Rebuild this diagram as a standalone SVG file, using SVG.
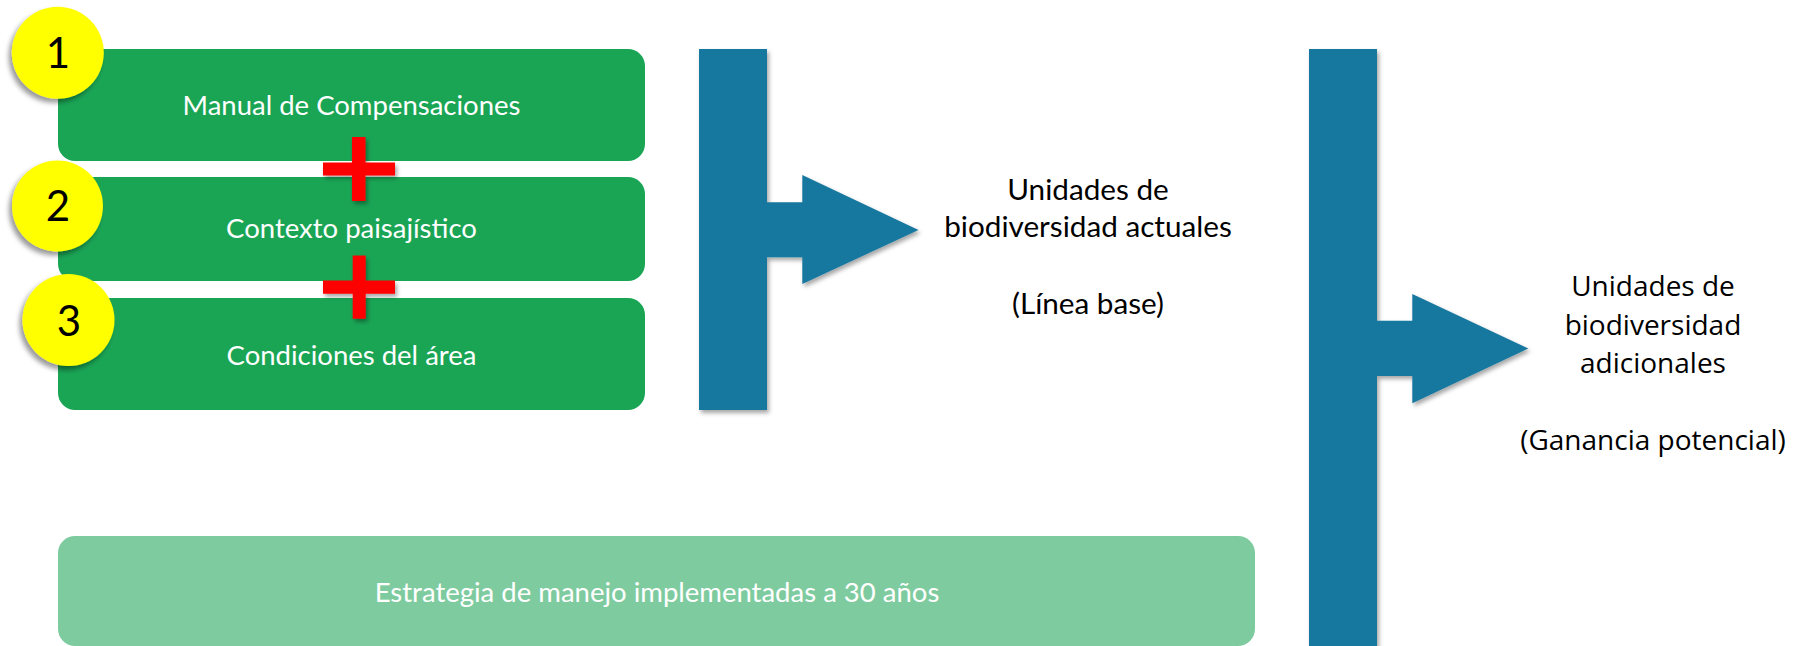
<svg xmlns="http://www.w3.org/2000/svg" width="1805" height="646" viewBox="0 0 1805 646">
<defs>
<filter id="sh" x="-20%" y="-20%" width="140%" height="140%"><feDropShadow dx="2" dy="3" stdDeviation="2" flood-color="#000" flood-opacity="0.35"/></filter>
<filter id="shc" x="-30%" y="-30%" width="160%" height="160%"><feDropShadow dx="-3" dy="4" stdDeviation="2.5" flood-color="#000" flood-opacity="0.4"/></filter>
</defs>
<style>
.box{fill:#1AA555}
.box2{fill:#7FCBA0}
.bt{font-family:Lato,"Liberation Sans",sans-serif;font-size:27.5px;fill:#fff;text-anchor:middle}
.num{font-family:Lato,"Liberation Sans",sans-serif;font-size:42px;fill:#000;text-anchor:middle}
.circ{fill:#FFFF00;filter:url(#shc)}
.plus{fill:#FF0000;filter:url(#sh)}
.arr{fill:#17779F;filter:url(#sh)}
.lt{font-family:Lato,"Liberation Sans",sans-serif;font-size:29.7px;fill:#000;text-anchor:middle}
.rt{font-family:"Open Sans","DejaVu Sans",sans-serif;font-size:28px;fill:#000;text-anchor:middle}
</style>
<rect width="1805" height="646" fill="#fff"/>
<g id="box1"><rect class="box" x="58" y="49" width="587" height="112" rx="17"/><text class="bt" x="351.5" y="115">Manual de Compensaciones</text></g>
<g id="box2"><rect class="box" x="58" y="177" width="587" height="104" rx="17"/><text class="bt" x="351.5" y="238">Contexto paisajístico</text></g>
<g id="box3"><rect class="box" x="58" y="298" width="587" height="112" rx="17"/><text class="bt" x="351.5" y="365">Condiciones del área</text></g>
<g id="plus1"><path class="plus" d="M352,137 H365.5 V162.5 H395 V175.5 H365.5 V201 H352 V175.5 H323 V162.5 H352 Z"/></g>
<g id="plus2"><path class="plus" d="M352.7,255.5 H365.7 V280.5 H395 V293.7 H365.7 V318.7 H352.7 V293.7 H323 V280.5 H352.7 Z"/></g>
<g id="circle1"><circle class="circ" cx="57.8" cy="52.8" r="46"/><text class="num" x="58" y="68">1</text></g>
<g id="circle2"><circle class="circ" cx="57.5" cy="206" r="45.5"/><text class="num" x="58" y="221">2</text></g>
<g id="circle3"><circle class="circ" cx="68.5" cy="320" r="46"/><text class="num" x="69" y="335.5">3</text></g>
<g id="box4"><rect class="box2" x="58" y="536" width="1197" height="110" rx="17"/><text class="bt" x="657" y="602">Estrategia de manejo implementadas a 30 años</text></g>
<g id="connectors">
<path class="arr" d="M699,49 H767 V202.3 H802.3 V175 L918.5,230 L802.3,284 V257.3 H767 V410 H699 Z"/>
<path class="arr" d="M1309,49 H1377 V320.7 H1412.3 V294 L1528.3,348.5 L1412.3,403.3 V376 H1377 V660 H1309 Z"/>
</g>
<g id="label1">
<text class="lt" x="1088" y="200">Unidades de</text>
<text class="lt" x="1088" y="237">biodiversidad actuales</text>
<text class="lt" x="1088" y="314">(Línea base)</text>
</g>
<g id="label2">
<text class="rt" x="1653" y="296">Unidades de</text>
<text class="rt" x="1653" y="335">biodiversidad</text>
<text class="rt" x="1653" y="373">adicionales</text>
<text class="rt" x="1653" y="450">(Ganancia potencial)</text>
</g>
</svg>
